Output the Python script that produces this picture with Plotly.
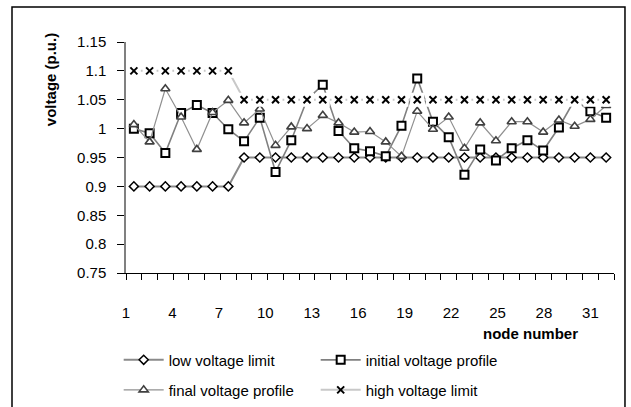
import plotly.graph_objects as go

# ---- data ----
nodes = list(range(1, 32))
low_limit = [0.9] * 7 + [0.95] * 24
high_limit = [1.1] * 7 + [1.05] * 24
initial_profile = [1.000, 0.992, 0.958, 1.027, 1.041, 1.027, 0.999, 0.978, 1.019, 0.925,
                   0.980, 1.050, 1.076, 0.996, 0.966, 0.961, 0.952, 1.005, 1.087, 1.012,
                   0.985, 0.920, 0.964, 0.945, 0.966, 0.980, 0.962, 1.002, 1.050, 1.030,
                   1.019]
final_profile = [1.007, 0.977, 1.069, 1.020, 0.964, 1.028, 1.049, 1.010, 1.034, 0.971,
                 1.003, 1.000, 1.023, 1.010, 0.994, 0.995, 0.977, 0.952, 1.030, 0.999,
                 1.020, 0.966, 1.010, 0.979, 1.012, 1.012, 0.994, 1.015, 1.004, 1.016,
                 1.040]
x_tick_labels = ["1", "4", "7", "10", "13", "16", "19", "22", "25", "28", "31"]
y_tick_vals = [0.75, 0.8, 0.85, 0.9, 0.95, 1.0, 1.05, 1.1, 1.15]
y_tick_labels = ["0.75", "0.8", "0.85", "0.9", "0.95", "1", "1.05", "1.1", "1.15"]

FONT = "Liberation Sans, Arial, sans-serif"

fig = go.Figure()

fig.add_trace(go.Scatter(
    x=nodes, y=low_limit, name="low voltage limit", mode="lines+markers",
    line=dict(color="#8a8a8a", width=2),
    marker=dict(symbol="diamond", size=7, color="white", line=dict(color="black", width=1.5)),
    legend="legend"))
fig.add_trace(go.Scatter(
    x=nodes, y=initial_profile, name="initial voltage profile", mode="lines+markers",
    line=dict(color="#808080", width=1.6),
    marker=dict(symbol="square", size=8, color="white", line=dict(color="black", width=2)),
    legend="legend"))
fig.add_trace(go.Scatter(
    x=nodes, y=final_profile, name="final voltage profile", mode="lines+markers",
    line=dict(color="#909090", width=1.2),
    marker=dict(symbol="triangle-up", size=8, color="white", line=dict(color="#404040", width=1.6)),
    legend="legend2"))
# high limit line
fig.add_trace(go.Scatter(
    x=nodes, y=high_limit, mode="lines", showlegend=False, hoverinfo="skip",
    line=dict(color="#c8c8c8", width=2)))
# white marker background boxes of the x markers
fig.add_trace(go.Scatter(
    x=nodes, y=high_limit, mode="markers", showlegend=False, hoverinfo="skip",
    marker=dict(symbol="square", size=14, color="white", line=dict(width=0))))
fig.add_trace(go.Scatter(
    x=nodes, y=high_limit, mode="markers", showlegend=False, name="high voltage limit",
    marker=dict(symbol="x-thin", size=7, line=dict(color="black", width=2))))
# legend entry for the high limit
fig.add_trace(go.Scatter(
    x=[None], y=[None], name="high voltage limit", mode="lines+markers",
    line=dict(color="#c8c8c8", width=2),
    marker=dict(symbol="x-thin", size=7, line=dict(color="black", width=2)),
    legend="legend2"))

# label positions follow the reference's slightly compressed label spacing
label_pos = [0.5 + 2.95 * k for k in range(len(x_tick_labels))]
boundaries = [n - 0.5 for n in nodes] + [nodes[-1] + 0.5]

fig.update_layout(
    width=631, height=407,
    margin=dict(l=126, r=17, t=42, b=134, autoexpand=False),
    paper_bgcolor="white", plot_bgcolor="white",
    font=dict(family=FONT, size=15, color="black"),
    xaxis=dict(
        range=[0.5, 31.5], showgrid=False, zeroline=False,
        showline=True, linecolor="black", linewidth=1,
        tickmode="array", tickvals=label_pos, ticktext=x_tick_labels,
        ticks="", ticklabelstandoff=26,
        minor=dict(tickmode="array", tickvals=boundaries, ticks="outside",
                   ticklen=6, tickcolor="black", tickwidth=1, showgrid=False),
    ),
    yaxis=dict(
        range=[0.75, 1.15], showgrid=False, zeroline=False,
        showline=True, linecolor="#808080", linewidth=1.5,
        tickmode="array", tickvals=y_tick_vals, ticktext=y_tick_labels,
        ticks="outside", ticklen=7, tickcolor="black", tickwidth=1,
        ticklabelstandoff=8,
    ),
    legend=dict(orientation="h", x=-0.015, y=-0.377, xanchor="left", yanchor="middle",
                entrywidth=142, entrywidthmode="pixels", itemwidth=40,
                font=dict(size=15), bgcolor="rgba(0,0,0,0)"),
    legend2=dict(orientation="h", x=-0.015, y=-0.507, xanchor="left", yanchor="middle",
                 entrywidth=142, entrywidthmode="pixels", itemwidth=40,
                 font=dict(size=15), bgcolor="rgba(0,0,0,0)"),
    annotations=[
        dict(text="<b>voltage (p.u.)</b>", xref="paper", yref="paper",
             x=-0.1557, y=0.835, textangle=-90, showarrow=False,
             font=dict(size=15), xanchor="center", yanchor="middle"),
        dict(text="<b>node number</b>", xref="paper", yref="paper",
             x=0.828, y=-0.264, showarrow=False,
             font=dict(size=15), xanchor="center", yanchor="middle"),
    ],
    shapes=[
        dict(type="rect", xref="paper", yref="paper",
             x0=-0.2336, x1=1.0225, y0=-0.62, y1=1.1515,
             line=dict(color="black", width=1.5), fillcolor="rgba(0,0,0,0)", layer="below"),
    ],
)

fig.write_html("out.html")
